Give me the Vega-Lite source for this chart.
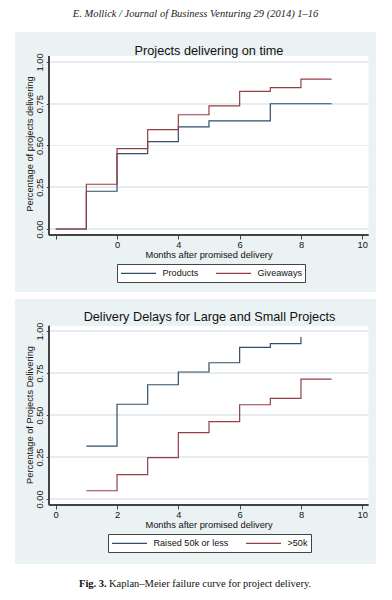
{
  "$schema": "https://vega.github.io/schema/vega-lite/v6.json",
  "background": "white",
  "padding": {"left": 15, "top": 8, "right": 16, "bottom": 0},
  "title": {"text": "E. Mollick / Journal of Business Venturing 29 (2014) 1–16", "font": "Liberation Serif", "fontStyle": "italic", "fontSize": 10.5, "fontWeight": "normal", "anchor": "middle", "baseline": "top", "offset": 13, "color": "#222"},
  "spacing": 7,
  "resolve": {"scale": {"color": "independent"}, "legend": {"color": "independent"}},
  "datasets": {
    "ontime": [
      {"series": "Products", "month": -2, "share": 0},
      {"series": "Products", "month": -1, "share": 0.226},
      {"series": "Products", "month": 0, "share": 0.451},
      {"series": "Products", "month": 1, "share": 0.523},
      {"series": "Products", "month": 2, "share": 0.611},
      {"series": "Products", "month": 3, "share": 0.648},
      {"series": "Products", "month": 5, "share": 0.75},
      {"series": "Products", "month": 7, "share": 0.75},
      {"series": "Giveaways", "month": -2, "share": 0},
      {"series": "Giveaways", "month": -1, "share": 0.268},
      {"series": "Giveaways", "month": 0, "share": 0.481},
      {"series": "Giveaways", "month": 1, "share": 0.595},
      {"series": "Giveaways", "month": 2, "share": 0.684},
      {"series": "Giveaways", "month": 3, "share": 0.737},
      {"series": "Giveaways", "month": 4, "share": 0.824},
      {"series": "Giveaways", "month": 5, "share": 0.846},
      {"series": "Giveaways", "month": 6, "share": 0.898},
      {"series": "Giveaways", "month": 7, "share": 0.898}
    ],
    "size": [
      {"series": "Raised 50k or less", "month": 1, "share": 0.315},
      {"series": "Raised 50k or less", "month": 2, "share": 0.564},
      {"series": "Raised 50k or less", "month": 3, "share": 0.68},
      {"series": "Raised 50k or less", "month": 4, "share": 0.756},
      {"series": "Raised 50k or less", "month": 5, "share": 0.811},
      {"series": "Raised 50k or less", "month": 6, "share": 0.903},
      {"series": "Raised 50k or less", "month": 7, "share": 0.925},
      {"series": "Raised 50k or less", "month": 8, "share": 0.964},
      {"series": ">50k", "month": 1, "share": 0.049},
      {"series": ">50k", "month": 2, "share": 0.145},
      {"series": ">50k", "month": 3, "share": 0.246},
      {"series": ">50k", "month": 4, "share": 0.395},
      {"series": ">50k", "month": 5, "share": 0.46},
      {"series": ">50k", "month": 6, "share": 0.561},
      {"series": ">50k", "month": 7, "share": 0.599},
      {"series": ">50k", "month": 8, "share": 0.714},
      {"series": ">50k", "month": 9, "share": 0.714}
    ],
    "caption": [{"fig": "Fig. 3.", "text": "Kaplan–Meier failure curve for project delivery."}]
  },
  "vconcat": [
    {
      "width": 361, "height": 260,
      "view": {"fill": "#EAF2F3", "stroke": null},
      "title": {"text": "Projects delivering on time", "fontSize": 12.7, "fontWeight": "normal", "color": "#111", "anchor": "middle", "baseline": "middle", "offset": -32, "dx": 13.5},
      "data": {"name": "ontime"},
      "layer": [
        {
          "mark": {"type": "rect", "fill": "white"},
          "encoding": {
            "x": {"datum": -2.21, "type": "quantitative", "scale": {"domain": [-3.327, 8.447], "nice": false, "zero": false}},
            "x2": {"datum": 8.19},
            "y": {"datum": -0.036, "type": "quantitative", "scale": {"domain": [-0.3772, 1.1796], "nice": false, "zero": false}},
            "y2": {"datum": 1.034}
          }
        },
        {"mark": {"type": "rule", "color": "#E3ECEE", "strokeWidth": 1}, "encoding": {"x": {"datum": -2.21, "type": "quantitative"}, "x2": {"datum": 8.19}, "y": {"datum": 0, "type": "quantitative"}}},
        {"mark": {"type": "rule", "color": "#E3ECEE", "strokeWidth": 1}, "encoding": {"x": {"datum": -2.21, "type": "quantitative"}, "x2": {"datum": 8.19}, "y": {"datum": 0.25, "type": "quantitative"}}},
        {"mark": {"type": "rule", "color": "#E3ECEE", "strokeWidth": 1}, "encoding": {"x": {"datum": -2.21, "type": "quantitative"}, "x2": {"datum": 8.19}, "y": {"datum": 0.5, "type": "quantitative"}}},
        {"mark": {"type": "rule", "color": "#E3ECEE", "strokeWidth": 1}, "encoding": {"x": {"datum": -2.21, "type": "quantitative"}, "x2": {"datum": 8.19}, "y": {"datum": 0.75, "type": "quantitative"}}},
        {"mark": {"type": "rule", "color": "#E3ECEE", "strokeWidth": 1}, "encoding": {"x": {"datum": -2.21, "type": "quantitative"}, "x2": {"datum": 8.19}, "y": {"datum": 1, "type": "quantitative"}}},
        {
          "mark": {"type": "line", "interpolate": "step-after", "strokeWidth": 1.2},
          "encoding": {
            "x": {"field": "month", "type": "quantitative", "scale": {"domain": [-3.327, 8.447], "nice": false, "zero": false},
              "axis": {"values": [-2, 0, 2, 4, 6, 8], "labelExpr": "datum.value == -2 ? '' : datum.value == 0 ? '0' : format(datum.value + 2, 'd')", "domain": false, "grid": false, "tickSize": 4, "labelPadding": 1, "offset": -57, "zindex": 1, "title": "Months after promised delivery", "titleX": 193.5, "titleY": 19.3, "titleBaseline": "middle", "titleAlign": "center"}},
            "y": {"field": "share", "type": "quantitative", "scale": {"domain": [-0.3772, 1.1796], "nice": false, "zero": false},
              "axis": {"values": [0, 0.25, 0.5, 0.75, 1], "format": ".2f", "labelAngle": 270, "labelAlign": "center", "labelBaseline": "bottom", "domain": false, "grid": false, "tickSize": 3, "labelPadding": 1.5, "offset": -34.3, "zindex": 1, "title": "Percentage of projects delivering", "titleX": -19.8, "titleY": 111.5, "titleBaseline": "middle", "titleAlign": "center", "titleAngle": 270}},
            "color": {"field": "series", "type": "nominal", "sort": null, "scale": {"domain": ["Products", "Giveaways"], "range": ["#2f4d6c", "#953f45"]},
              "legend": {"orient": "none", "legendX": 102, "legendY": 232, "direction": "horizontal", "title": null}}
          }
        },
        {
          "mark": {"type": "rule", "color": "#444", "strokeWidth": 1},
          "encoding": {
            "x": {"datum": -2.21, "type": "quantitative"},
            "x2": {"datum": 8.19},
            "y": {"datum": -0.036, "type": "quantitative"}
          }
        },
        {
          "mark": {"type": "rule", "color": "#444", "strokeWidth": 1},
          "encoding": {
            "x": {"datum": -2.21, "type": "quantitative"},
            "y": {"datum": -0.036, "type": "quantitative"},
            "y2": {"datum": 1.034}
          }
        }
      ]
    },
    {
      "width": 361, "height": 265,
      "view": {"fill": "#EAF2F3", "stroke": null},
      "title": {"text": "Delivery Delays for Large and Small Projects", "fontSize": 12.7, "fontWeight": "normal", "color": "#111", "anchor": "middle", "baseline": "middle", "offset": -31, "dx": 14},
      "data": {"name": "size"},
      "layer": [
        {
          "mark": {"type": "rect", "fill": "white"},
          "encoding": {
            "x": {"datum": -0.21, "type": "quantitative", "scale": {"domain": [-1.327, 10.447], "nice": false, "zero": false}},
            "x2": {"datum": 10.19},
            "y": {"datum": -0.036, "type": "quantitative", "scale": {"domain": [-0.3869, 1.1905], "nice": false, "zero": false}},
            "y2": {"datum": 1.03}
          }
        },
        {"mark": {"type": "rule", "color": "#E3ECEE", "strokeWidth": 1}, "encoding": {"x": {"datum": -0.21, "type": "quantitative"}, "x2": {"datum": 10.19}, "y": {"datum": 0, "type": "quantitative"}}},
        {"mark": {"type": "rule", "color": "#E3ECEE", "strokeWidth": 1}, "encoding": {"x": {"datum": -0.21, "type": "quantitative"}, "x2": {"datum": 10.19}, "y": {"datum": 0.25, "type": "quantitative"}}},
        {"mark": {"type": "rule", "color": "#E3ECEE", "strokeWidth": 1}, "encoding": {"x": {"datum": -0.21, "type": "quantitative"}, "x2": {"datum": 10.19}, "y": {"datum": 0.5, "type": "quantitative"}}},
        {"mark": {"type": "rule", "color": "#E3ECEE", "strokeWidth": 1}, "encoding": {"x": {"datum": -0.21, "type": "quantitative"}, "x2": {"datum": 10.19}, "y": {"datum": 0.75, "type": "quantitative"}}},
        {"mark": {"type": "rule", "color": "#E3ECEE", "strokeWidth": 1}, "encoding": {"x": {"datum": -0.21, "type": "quantitative"}, "x2": {"datum": 10.19}, "y": {"datum": 1, "type": "quantitative"}}},
        {
          "mark": {"type": "line", "interpolate": "step-after", "strokeWidth": 1.2},
          "encoding": {
            "x": {"field": "month", "type": "quantitative", "scale": {"domain": [-1.327, 10.447], "nice": false, "zero": false},
              "axis": {"values": [0, 2, 4, 6, 8, 10], "format": "d", "domain": false, "grid": false, "tickSize": 4, "labelPadding": 1, "offset": -59, "zindex": 1, "title": "Months after promised delivery", "titleX": 193.5, "titleY": 19, "titleBaseline": "middle", "titleAlign": "center"}},
            "y": {"field": "share", "type": "quantitative", "scale": {"domain": [-0.3869, 1.1905], "nice": false, "zero": false},
              "axis": {"values": [0, 0.25, 0.5, 0.75, 1], "format": ".2f", "labelAngle": 270, "labelAlign": "center", "labelBaseline": "bottom", "domain": false, "grid": false, "tickSize": 3, "labelPadding": 1.5, "offset": -34.3, "zindex": 1, "title": "Percentage of Projects Delivering", "titleX": -19.8, "titleY": 115.5, "titleBaseline": "middle", "titleAlign": "center", "titleAngle": 270}},
            "color": {"field": "series", "type": "nominal", "sort": null, "scale": {"domain": ["Raised 50k or less", ">50k"], "range": ["#2f4d6c", "#953f45"]},
              "legend": {"orient": "none", "legendX": 93, "legendY": 235, "direction": "horizontal", "title": null}}
          }
        },
        {
          "mark": {"type": "rule", "color": "#444", "strokeWidth": 1},
          "encoding": {
            "x": {"datum": -0.21, "type": "quantitative"},
            "x2": {"datum": 10.19},
            "y": {"datum": -0.036, "type": "quantitative"}
          }
        },
        {
          "mark": {"type": "rule", "color": "#444", "strokeWidth": 1},
          "encoding": {
            "x": {"datum": -0.21, "type": "quantitative"},
            "y": {"datum": -0.036, "type": "quantitative"},
            "y2": {"datum": 1.03}
          }
        }
      ]
    },
    {
      "width": 361, "height": 26,
      "view": {"stroke": null},
      "data": {"name": "caption"},
      "layer": [
        {"mark": {"type": "text", "align": "left", "baseline": "middle", "font": "Liberation Serif", "fontSize": 10.5, "fontWeight": "bold", "color": "#111", "dx": -116.5}, "encoding": {"text": {"field": "fig"}}},
        {"mark": {"type": "text", "align": "left", "baseline": "middle", "font": "Liberation Serif", "fontSize": 10.5, "color": "#111", "dx": -86.5}, "encoding": {"text": {"field": "text"}}}
      ]
    }
  ],
  "config": {
    "font": "Liberation Sans",
    "view": {"stroke": null},
    "axis": {"labelFont": "Liberation Sans", "labelFontSize": 9.3, "labelColor": "#111", "titleFont": "Liberation Sans", "titleFontSize": 9.3, "titleFontWeight": "normal", "titleColor": "#111", "tickColor": "#444", "tickWidth": 1},
    "legend": {"fillColor": "white", "strokeColor": "#444", "padding": 3, "labelFont": "Liberation Sans", "labelFontSize": 9.1, "labelColor": "#111", "symbolType": "M-1,0H6", "symbolSize": 100, "symbolStrokeWidth": 1.2, "symbolFillColor": "transparent", "labelOffset": 30.5, "columnPadding": 14}
  }
}
